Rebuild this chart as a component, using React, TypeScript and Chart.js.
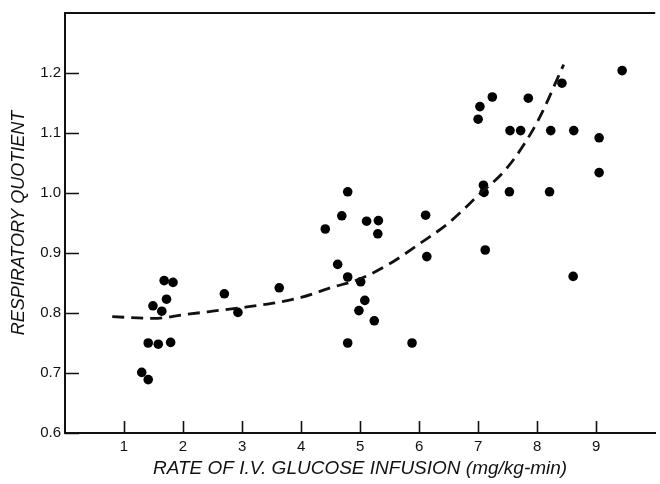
import React, { useEffect, useRef } from "react";
import { Chart, registerables } from "chart.js";

Chart.register(...registerables);

// Observed data: rate of I.V. glucose infusion (mg/kg-min) vs respiratory quotient
const infusionRate = [
  1.30, 1.41, 1.41, 1.58, 1.79, 1.49, 1.64, 1.72, 1.68, 1.83,
  2.70, 2.93, 3.63,
  4.41, 4.62, 4.69, 4.79, 4.79, 4.79, 4.98, 5.01, 5.08, 5.11, 5.24, 5.30, 5.31,
  5.88, 6.11, 6.13,
  7.00, 7.03, 7.09, 7.10, 7.12, 7.24, 7.53, 7.54, 7.72, 7.85, 8.21, 8.23, 8.42,
  8.61, 8.62, 9.05, 9.05, 9.44,
];
const respiratoryQuotient = [
  0.701, 0.689, 0.750, 0.748, 0.751, 0.812, 0.803, 0.823, 0.854, 0.851,
  0.832, 0.801, 0.842,
  0.940, 0.881, 0.962, 1.002, 0.860, 0.750, 0.804, 0.852, 0.821, 0.953, 0.787, 0.932, 0.954,
  0.750, 0.963, 0.894,
  1.123, 1.144, 1.013, 1.001, 0.905, 1.160, 1.002, 1.104, 1.104, 1.158, 1.002, 1.104, 1.183,
  0.861, 1.104, 1.092, 1.034, 1.204,
];

// Fitted (dashed) curve
const curveX = [0.8, 1.5, 2.0, 2.5, 3.0, 3.5, 4.0, 4.5, 5.0, 5.5, 6.0, 6.5, 7.0, 7.5, 8.0, 8.45];
const curveY = [0.794, 0.791, 0.797, 0.803, 0.809, 0.816, 0.826, 0.842, 0.857, 0.882, 0.915, 0.950, 0.996, 1.043, 1.118, 1.214];

const xTickValues = [1, 2, 3, 4, 5, 6, 7, 8, 9];
const yTickValues = [0.6, 0.7, 0.8, 0.9, 1.0, 1.1, 1.2];

const xTitle = "RATE OF I.V. GLUCOSE INFUSION (mg/kg-min)";
const yTitle = "RESPIRATORY QUOTIENT";

const TITLE_FONT = "'Liberation Sans', Arial, sans-serif";
const TICK_FONT = "'Liberation Sans', Arial, sans-serif";

const frameAndTicks = {
  id: "frameAndTicks",
  afterDatasetsDraw(chart: any) {
    const ctx = chart.ctx;
    const area = chart.chartArea;
    const xs = chart.scales.x;
    const ys = chart.scales.y;
    ctx.save();
    ctx.strokeStyle = "#111";
    // top frame line
    ctx.lineWidth = 2;
    ctx.beginPath();
    ctx.moveTo(area.left, area.top);
    ctx.lineTo(area.right, area.top);
    ctx.stroke();
    // inward ticks
    ctx.lineWidth = 1.6;
    ctx.beginPath();
    xs.ticks.forEach((t: any) => {
      const px = Math.round(xs.getPixelForValue(t.value)) + 0.5;
      ctx.moveTo(px, area.bottom);
      ctx.lineTo(px, area.bottom - 12);
    });
    ys.ticks.forEach((t: any) => {
      const py = Math.round(ys.getPixelForValue(t.value)) + 0.5;
      ctx.moveTo(area.left, py);
      ctx.lineTo(area.left + 14, py);
    });
    ctx.stroke();
    ctx.restore();
  },
};

export default function App() {
  const ref = useRef<HTMLCanvasElement | null>(null);

  useEffect(() => {
    if (!ref.current) return;
    const points = infusionRate.map((x, i) => ({ x, y: respiratoryQuotient[i] }));
    const curve = curveX.map((x, i) => ({ x, y: curveY[i] }));
    const chart = new Chart(ref.current, {
      type: "scatter",
      data: {
        datasets: [
          {
            type: "line",
            label: "fit",
            data: curve,
            borderColor: "#111",
            borderWidth: 2.8,
            borderDash: [12, 7],
            pointRadius: 0,
            fill: false,
            tension: 0.4,
            cubicInterpolationMode: "monotone",
          } as any,
          {
            label: "observed",
            data: points,
            pointRadius: 4.8,
            pointHoverRadius: 4.8,
            pointBackgroundColor: "#000",
            pointBorderWidth: 0,
            showLine: false,
          } as any,
        ],
      },
      options: {
        animation: false,
        responsive: false,
        maintainAspectRatio: false,
        events: [],
        layout: { padding: { top: 12, right: 0, left: 0, bottom: 0 } },
        plugins: {
          legend: { display: false },
          tooltip: { enabled: false },
        },
        scales: {
          x: {
            type: "linear",
            min: 0,
            max: 10,
            afterBuildTicks: (s: any) => {
              s.ticks = xTickValues.map((v) => ({ value: v }));
            },
            afterFit: (s: any) => {
              s.height = 51;
            },
            ticks: {
              color: "#111",
              font: { family: TICK_FONT, size: 15 },
              padding: 5,
              maxRotation: 0,
              autoSkip: false,
              callback: (v: any) => String(v),
            },
            grid: { display: false, drawTicks: false },
            border: { display: true, color: "#111", width: 2 },
            title: {
              display: true,
              text: xTitle,
              color: "#111",
              font: { family: TITLE_FONT, size: 19, style: "italic" },
              padding: { top: 0, bottom: 4 },
            },
          },
          y: {
            type: "linear",
            min: 0.6,
            max: 1.3,
            afterBuildTicks: (s: any) => {
              s.ticks = yTickValues.map((v) => ({ value: v }));
            },
            afterFit: (s: any) => {
              s.width = 65;
            },
            ticks: {
              color: "#111",
              font: { family: TICK_FONT, size: 15 },
              padding: 4,
              autoSkip: false,
              callback: (v: any) => Number(v).toFixed(1),
            },
            grid: { display: false, drawTicks: false },
            border: { display: true, color: "#111", width: 2 },
            title: {
              display: true,
              text: yTitle,
              color: "#111",
              font: { family: TITLE_FONT, size: 18, style: "italic" },
              padding: { top: 8, bottom: 0 },
            },
          },
        },
      },
      plugins: [frameAndTicks],
    });
    return () => chart.destroy();
  }, []);

  return (
    <div style={{ position: "absolute", left: 0, top: 0, width: 660, height: 484, background: "#fff" }}>
      <canvas ref={ref} width={660} height={484} style={{ display: "block" }} />
    </div>
  );
}
